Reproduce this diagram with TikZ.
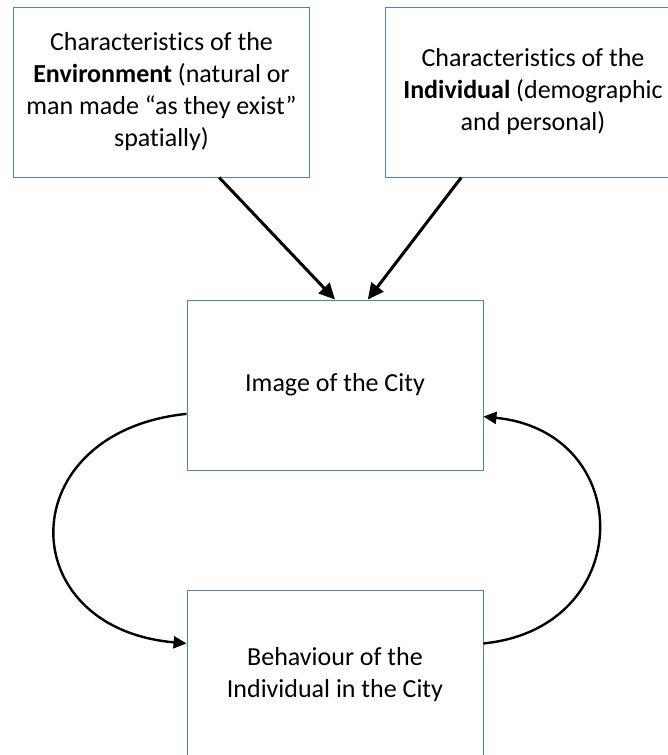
\documentclass[tikz,border=0pt]{standalone}
\usepackage{fontspec}
\setmainfont[RawFeature={-liga;-clig;-dlig}]{Carlito}
\usetikzlibrary{arrows.meta}
\definecolor{boxblue}{RGB}{79,129,189}

\begin{document}
\begin{tikzpicture}[x=1pt, y=-1pt,
    cbox/.style={draw=boxblue, line width=0.9pt, minimum width=296pt, minimum height=170pt,
      inner sep=0pt, align=center, font=\fontsize{26}{32}\selectfont},
    feed/.style={line width=3pt, -{Triangle[length=16pt,width=15pt]}},
    turnarrow/.style={line width=2.4pt, -{Triangle[length=13pt,width=12pt]}}]

    \clip (0,0) rectangle (668,755);
    \fill[white] (0,0) rectangle (668,755);

    % the two inputs
    \node[cbox] (env) at (161.5, 92) {Characteristics of the\\\textbf{Environment} (natural or\\man made “as they exist”\\spatially)};
    \node[cbox] (ind) at (533, 92) {Characteristics of the\\\textbf{Individual} (demographic\\and personal)};

    \node[cbox] (img) at (335, 385) {Image of the City};
    \node[cbox] (beh) at (335, 675) {Behaviour of the\\Individual in the City};

    \draw[feed] (env.304) to (img.north);
    \draw[feed] (ind.230) to (img.69);

    % feedback loop
    \draw[turnarrow] (img.191) .. controls (11,432) and (11,628) .. (beh.168);
    \draw[turnarrow] (beh.12) .. controls (637,628) and (637,432) .. (img.348);
  \end{tikzpicture}
\end{document}
